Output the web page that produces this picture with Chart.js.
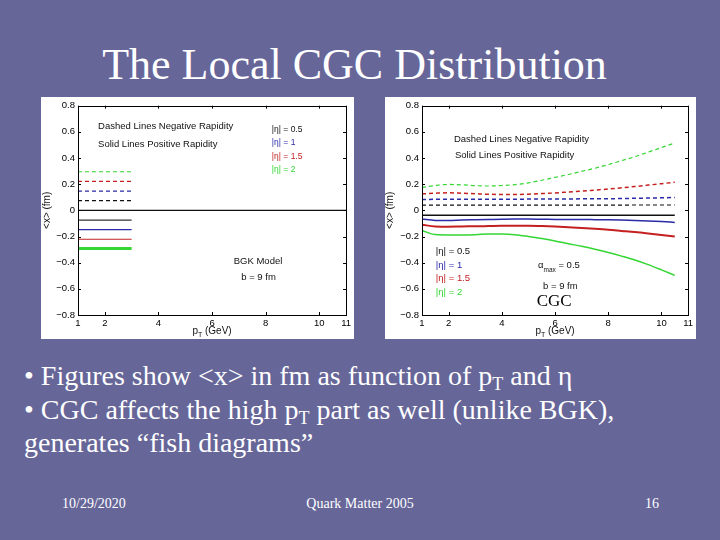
<!DOCTYPE html>
<html><head><meta charset="utf-8">
<script src="https://cdn.jsdelivr.net/npm/chart.js@4"></script>
<style>
html,body{margin:0;padding:0;}
body{width:720px;height:540px;background:#666699;position:relative;overflow:hidden;font-family:'Liberation Serif','Times New Roman',serif;color:#fff;}
#title{position:absolute;left:0;top:43px;width:709px;text-align:center;font-size:44px;line-height:44px;white-space:nowrap;}
canvas.cv{position:absolute;background:#fff;}
#left{left:41px;top:97px;}
#right{left:385px;top:97px;}
#bullets{position:absolute;left:24px;top:359px;font-size:28px;line-height:33.5px;white-space:nowrap;}
#bullets sub{font-size:18px;vertical-align:-5px;line-height:0;}
.foot{position:absolute;top:497px;font-size:14px;line-height:14px;white-space:nowrap;}
</style></head>
<body>
<div id="title">The Local CGC Distribution</div>
<canvas id="left" class="cv" width="313" height="242"></canvas>
<canvas id="right" class="cv" width="311" height="242"></canvas>
<div id="bullets">• Figures show &lt;x&gt; in fm as function of p<sub>T</sub> and η<br>• CGC affects the high p<sub>T</sub> part as well (unlike BGK),<br>generates “fish diagrams”</div>
<div class="foot" style="left:62px;">10/29/2020</div>
<div class="foot" style="left:260px;width:200px;text-align:center;">Quark Matter 2005</div>
<div class="foot" style="left:645px;">16</div>
<script>
// ---- tick labels ----
const xTicks = [1, 2, 4, 6, 8, 10, 11];
const yTicks = [-0.8, -0.6, -0.4, -0.2, 0, 0.2, 0.4, 0.6, 0.8];
const yTickLabels = ['\u22120.8', '\u22120.6', '\u22120.4', '\u22120.2', '0', '0.2', '0.4', '0.6', '0.8'];

// ---- BGK model (left) ----
const bgkX = [1, 3];
const bgkZeroX = [1, 11];
const bgkZero = [0, 0];
const bgkNeg05 = [0.075, 0.075];
const bgkNeg1 = [0.147, 0.147];
const bgkNeg15 = [0.221, 0.221];
const bgkNeg2 = [0.295, 0.295];
const bgkPos05 = [-0.075, -0.075];
const bgkPos1 = [-0.147, -0.147];
const bgkPos15 = [-0.221, -0.221];
const bgkPos2 = [-0.292, -0.292];

// ---- CGC (right) ----
const cgcX = [1, 1.5, 2, 2.5, 3, 3.5, 4, 4.5, 5, 5.5, 6, 6.5, 7, 7.5, 8, 8.5, 9, 9.5, 10, 10.5];
const cgcNeg2 = [0.175, 0.19, 0.198, 0.195, 0.189, 0.186, 0.19, 0.197, 0.21, 0.23, 0.252, 0.274, 0.298, 0.322, 0.35, 0.38, 0.41, 0.445, 0.48, 0.515];
const cgcPos2 = [-0.155, -0.185, -0.188, -0.188, -0.186, -0.181, -0.18, -0.186, -0.2, -0.216, -0.234, -0.255, -0.275, -0.297, -0.322, -0.35, -0.38, -0.415, -0.455, -0.497];
const cgcNeg15 = [0.126, 0.131, 0.134, 0.131, 0.127, 0.123, 0.121, 0.121, 0.124, 0.128, 0.133, 0.14, 0.147, 0.155, 0.163, 0.172, 0.182, 0.193, 0.204, 0.215];
const cgcPos15 = [-0.11, -0.123, -0.125, -0.123, -0.122, -0.12, -0.118, -0.117, -0.117, -0.12, -0.124, -0.129, -0.135, -0.141, -0.148, -0.157, -0.166, -0.177, -0.189, -0.2];
const cgcNeg1 = [0.083, 0.084, 0.084, 0.084, 0.084, 0.085, 0.085, 0.085, 0.086, 0.086, 0.087, 0.087, 0.088, 0.088, 0.089, 0.09, 0.092, 0.094, 0.096, 0.098];
const cgcPos1 = [-0.067, -0.077, -0.078, -0.074, -0.072, -0.07, -0.068, -0.067, -0.067, -0.068, -0.069, -0.07, -0.07, -0.071, -0.072, -0.074, -0.077, -0.081, -0.086, -0.092];
const cgcNeg05 = [0.04, 0.04, 0.04, 0.04, 0.04, 0.04, 0.04, 0.04, 0.04, 0.04, 0.04, 0.04, 0.04, 0.04, 0.04, 0.04, 0.041, 0.041, 0.041, 0.041];
const cgcPos05 = [-0.037, -0.037, -0.037, -0.037, -0.037, -0.037, -0.037, -0.037, -0.037, -0.037, -0.037, -0.037, -0.037, -0.037, -0.037, -0.037, -0.037, -0.037, -0.037, -0.037];

const BLACK = '#111111', BLUE = '#2a2aa6', RED = '#c42020', GREEN = '#33d633';
const SANS = "'Liberation Sans', Arial, Helvetica, sans-serif";

function ds(xs, ys, color, width, dashed) {
  return {
    data: xs.map((x, i) => ({ x: x, y: ys[i] })),
    borderColor: color, borderWidth: width,
    borderDash: dashed ? [4, 3] : [],
    pointRadius: 0, fill: false, tension: 0.4, cubicInterpolationMode: 'monotone'
  };
}

const slidePlugin = {
  id: 'slidePlugin',
  afterDatasetsDraw(chart, args, opts) {
    const c = chart.ctx, a = chart.chartArea;
    const xs = chart.scales.x, ys = chart.scales.y;
    c.save();
    c.strokeStyle = '#000'; c.lineWidth = 1;
    c.strokeRect(Math.round(a.left) + 0.5, Math.round(a.top) + 0.5, Math.round(a.right - a.left), Math.round(a.bottom - a.top));
    c.beginPath();
    xTicks.forEach(v => {
      const px = Math.round(xs.getPixelForValue(v)) + 0.5;
      c.moveTo(px, a.bottom); c.lineTo(px, a.bottom - 3);
      c.moveTo(px, a.top); c.lineTo(px, a.top + 3);
    });
    yTicks.forEach(v => {
      const py = Math.round(ys.getPixelForValue(v)) + 0.5;
      c.moveTo(a.left, py); c.lineTo(a.left + 3, py);
      c.moveTo(a.right, py); c.lineTo(a.right - 3, py);
    });
    c.stroke();
    // axis titles
    c.fillStyle = '#111';
    c.textBaseline = 'middle';
    const cx = (a.left + a.right) / 2;
    c.font = '10px ' + SANS;
    const w1 = c.measureText('p').width;
    c.font = '7px ' + SANS;
    const w2 = c.measureText('T').width;
    c.font = '10px ' + SANS;
    const w3 = c.measureText(' (GeV)').width;
    let sx = cx - (w1 + w2 + w3) / 2;
    const ty = a.bottom + 16;
    c.textAlign = 'left';
    c.fillText('p', sx, ty);
    c.font = '7px ' + SANS; c.fillText('T', sx + w1, ty + 4);
    c.font = '10px ' + SANS; c.fillText(' (GeV)', sx + w1 + w2, ty);
    c.save();
    c.translate(opts.yTitleX, (a.top + a.bottom) / 2);
    c.rotate(-Math.PI / 2);
    c.textAlign = 'center';
    c.fillText('<x> (fm)', 0, 0);
    c.restore();
    // annotations
    (opts.notes || []).forEach(n => {
      c.font = n.font; c.fillStyle = n.color; c.textAlign = 'left'; c.textBaseline = 'middle';
      let px = xs.getPixelForValue(n.x), py = ys.getPixelForValue(n.y);
      (n.parts || [{ t: n.text }]).forEach(p => {
        c.font = p.font || n.font;
        c.fillText(p.t, px, py + (p.dy || 0));
        px += c.measureText(p.t).width;
      });
    });
    c.restore();
  }
};

function makeChart(id, datasets, notes, pad, yTitleX) {
  const tickFont = { family: SANS, size: 9.5 };
  return new Chart(document.getElementById(id), {
    type: 'line',
    data: { datasets: datasets },
    plugins: [slidePlugin],
    options: {
      responsive: false, animation: false,
      layout: { padding: pad },
      plugins: { legend: { display: false }, tooltip: { enabled: false }, title: { display: false },
        slidePlugin: { notes: notes, yTitleX: yTitleX } },
      scales: {
        x: {
          type: 'linear', min: 1, max: 11,
          afterBuildTicks: s => { s.ticks = xTicks.map(v => ({ value: v })); },
          afterFit: s => { s.height = 24; },
          grid: { display: false, drawTicks: false }, border: { display: false },
          ticks: { padding: 3, font: tickFont, color: '#000', maxRotation: 0, autoSkip: false, callback: v => String(v) }
        },
        y: {
          type: 'linear', min: -0.8, max: 0.8,
          afterBuildTicks: s => { s.ticks = yTicks.map(v => ({ value: v })); },
          afterFit: s => { s.width = 37; },
          grid: { display: false, drawTicks: false }, border: { display: false },
          ticks: { padding: 3, font: tickFont, color: '#000', autoSkip: false, callback: (v, i) => yTickLabels[i] }
        }
      }
    }
  });
}

const f95 = '9.5px ' + SANS, f8 = '8.5px ' + SANS;

makeChart('left', [
  ds(bgkZeroX, bgkZero, BLACK, 1.2, false),
  ds(bgkX, bgkNeg05, BLACK, 1.2, true),
  ds(bgkX, bgkNeg1, BLUE, 1.2, true),
  ds(bgkX, bgkNeg15, RED, 1.2, true),
  ds(bgkX, bgkNeg2, GREEN, 1.2, true),
  ds(bgkX, bgkPos05, '#333333', 1.2, false),
  ds(bgkX, bgkPos1, BLUE, 1.2, false),
  ds(bgkX, bgkPos15, RED, 1.2, false),
  ds(bgkX, bgkPos2, GREEN, 3, false)
], [
  { x: 1.75, y: 0.643, text: 'Dashed Lines Negative Rapidity', font: f95, color: '#111' },
  { x: 1.75, y: 0.508, text: 'Solid Lines Positive Rapidity', font: f95, color: '#111' },
  { x: 8.23, y: 0.617, text: '|η| = 0.5', font: f8, color: '#111' },
  { x: 8.23, y: 0.516, text: '|η| = 1', font: f8, color: BLUE },
  { x: 8.23, y: 0.414, text: '|η| = 1.5', font: f8, color: RED },
  { x: 8.23, y: 0.312, text: '|η| = 2', font: f8, color: GREEN },
  { x: 6.81, y: -0.391, text: 'BGK Model', font: f95, color: '#111' },
  { x: 7.09, y: -0.513, text: 'b = 9 fm', font: f95, color: '#111' }
], { left: 0, top: 8, right: 7, bottom: 0 }, 6);

makeChart('right', [
  ds(cgcX, cgcNeg05, BLACK, 1.2, true),
  ds(cgcX, cgcNeg1, BLUE, 1.5, true),
  ds(cgcX, cgcNeg15, RED, 1.5, true),
  ds(cgcX, cgcNeg2, GREEN, 1.2, true),
  ds(cgcX, cgcPos05, BLACK, 1.5, false),
  ds(cgcX, cgcPos1, BLUE, 1.5, false),
  ds(cgcX, cgcPos15, RED, 2, false),
  ds(cgcX, cgcPos2, GREEN, 1.5, false)
], [
  { x: 2.2, y: 0.541, text: 'Dashed Lines Negative Rapidity', font: f95, color: '#111' },
  { x: 2.24, y: 0.424, text: 'Solid Lines Positive Rapidity', font: f95, color: '#111' },
  { x: 1.52, y: -0.31, text: '|η| = 0.5', font: f95, color: '#111' },
  { x: 1.52, y: -0.417, text: '|η| = 1', font: f95, color: BLUE },
  { x: 1.52, y: -0.52, text: '|η| = 1.5', font: f95, color: RED },
  { x: 1.52, y: -0.627, text: '|η| = 2', font: f95, color: GREEN },
  { x: 5.36, y: -0.424, font: f95, color: '#111', parts: [{ t: 'α' }, { t: 'max', font: '6.5px ' + SANS, dy: 4 }, { t: ' = 0.5' }] },
  { x: 5.55, y: -0.58, text: 'b = 9 fm', font: f95, color: '#111' },
  { x: 5.31, y: -0.70, text: 'CGC', font: "17px 'Liberation Serif', 'Times New Roman', serif", color: '#000' }
], { left: 0, top: 7, right: 7, bottom: 0 }, 5);
</script>
</body></html>
